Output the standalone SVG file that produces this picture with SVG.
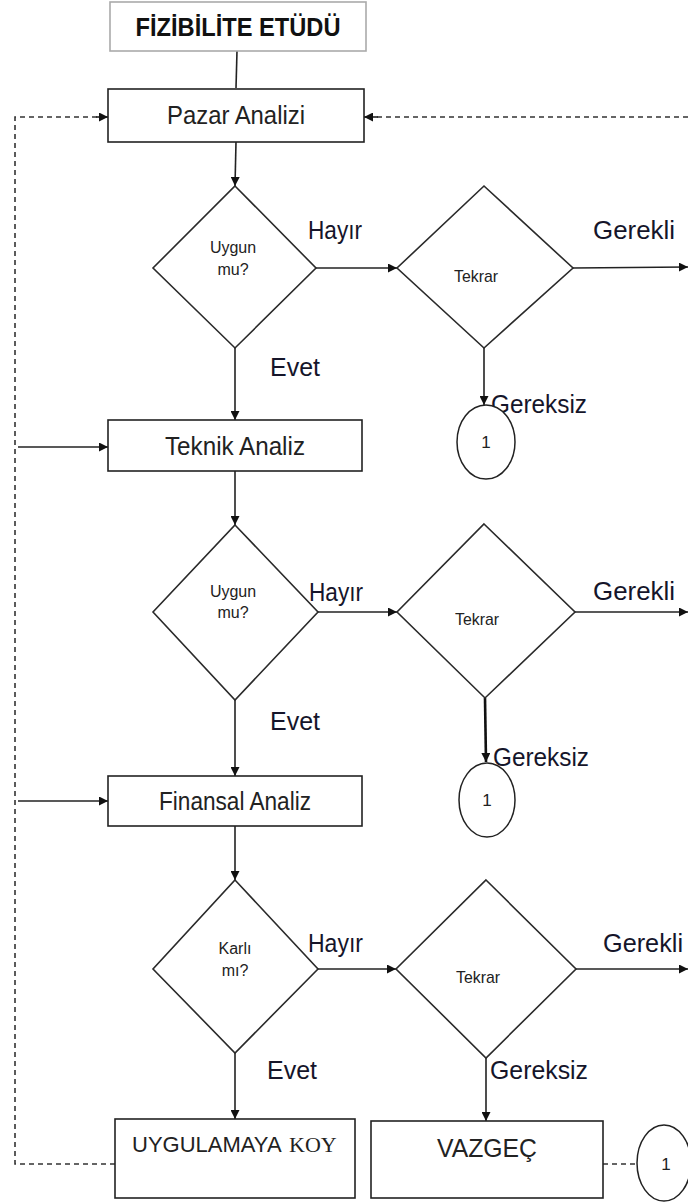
<svg xmlns="http://www.w3.org/2000/svg" width="688" height="1202" viewBox="0 0 688 1202">
  <defs>
    <marker id="arrow" viewBox="0 0 10 10" refX="10" refY="5" markerWidth="9" markerHeight="9" markerUnits="userSpaceOnUse" orient="auto">
      <path d="M0,0 L10,5 L0,10 z" fill="#111"/>
    </marker>
    <style>
      .box { fill: #fff; stroke: #222; stroke-width: 1.6; }
      .dia { fill: #fff; stroke: #2a2a2a; stroke-width: 1.6; }
      .circ { fill: #fff; stroke: #222; stroke-width: 1.5; }
      .ln { fill: none; stroke: #222; stroke-width: 1.6; }
      .thick { fill: none; stroke: #111; stroke-width: 2.6; }
      .dash { fill: none; stroke: #333; stroke-width: 1.6; stroke-dasharray: 5 4; }
      .arr { marker-end: url(#arrow); }
      .lbl { font-family: "Liberation Sans", Arial, sans-serif; font-size: 25px; fill: #222; text-anchor: middle; }
      .small { font-family: "Liberation Sans", Arial, sans-serif; font-size: 16px; fill: #222; text-anchor: middle; }
      .tek { font-family: "Liberation Sans", Arial, sans-serif; font-size: 17px; fill: #222; text-anchor: middle; }
      .edge { font-family: "Liberation Sans", Arial, sans-serif; font-size: 25px; fill: #15152a; }
      .num { font-family: "Liberation Sans", Arial, sans-serif; font-size: 17px; fill: #222; text-anchor: middle; }
    </style>
  </defs>
  <rect width="688" height="1202" fill="#fff"/>

  <!-- connectors -->
  <g id="connectors">
    <!-- title to first step -->
    <line class="ln" x1="237" y1="51" x2="236" y2="88" stroke="#444"/>
    <!-- feedback loops -->
    <polyline class="dash" points="115,1164 15,1164 15,117 99,117"/>
    <line class="ln arr" x1="96" y1="117" x2="108" y2="117"/>
    <line class="dash" x1="688" y1="117" x2="376" y2="117"/>
    <line class="ln arr" x1="378" y1="117" x2="364" y2="117"/>
    <line class="ln arr" x1="18" y1="447" x2="108" y2="447"/>
    <line class="ln arr" x1="18" y1="801" x2="108" y2="801"/>
    <!-- main flow -->
    <line class="ln arr" x1="236" y1="142" x2="235" y2="186"/>
    <line class="ln arr" x1="235" y1="348" x2="235" y2="420"/>
    <line class="ln arr" x1="235" y1="471" x2="235" y2="525"/>
    <line class="ln arr" x1="235" y1="700" x2="235" y2="776"/>
    <line class="ln arr" x1="235" y1="826" x2="235" y2="880"/>
    <line class="ln arr" x1="235" y1="1053" x2="235" y2="1119"/>
    <!-- Hayır branches -->
    <line class="ln arr" x1="316" y1="268" x2="397" y2="268"/>
    <line class="ln arr" x1="318" y1="612" x2="397" y2="612"/>
    <line class="ln arr" x1="318" y1="969" x2="396" y2="969"/>
    <!-- Gerekli branches -->
    <line class="ln arr" x1="573" y1="268" x2="688" y2="267"/>
    <line class="ln arr" x1="575" y1="612" x2="688" y2="612"/>
    <line class="ln arr" x1="576" y1="969" x2="688" y2="969"/>
    <!-- Gereksiz branches -->
    <line class="ln arr" x1="484" y1="348" x2="484" y2="405"/>
    <line class="thick arr" x1="485" y1="698" x2="486" y2="762"/>
    <line class="ln arr" x1="486" y1="1058" x2="486" y2="1121"/>
    <!-- VAZGEÇ to connector -->
    <line class="dash" x1="603" y1="1164" x2="637" y2="1164"/>
  </g>

  <!-- edge labels -->
  <g id="edge-labels">
    <text class="edge" x="308" y="239" textLength="54" lengthAdjust="spacingAndGlyphs">Hayır</text>
    <text class="edge" x="593" y="239" textLength="82" lengthAdjust="spacingAndGlyphs">Gerekli</text>
    <text class="edge" x="270" y="376" textLength="50" lengthAdjust="spacingAndGlyphs">Evet</text>
    <text class="edge" x="491" y="413" textLength="96" lengthAdjust="spacingAndGlyphs">Gereksiz</text>

    <text class="edge" x="309" y="601" textLength="54" lengthAdjust="spacingAndGlyphs">Hayır</text>
    <text class="edge" x="593" y="600" textLength="82" lengthAdjust="spacingAndGlyphs">Gerekli</text>
    <text class="edge" x="270" y="730" textLength="50" lengthAdjust="spacingAndGlyphs">Evet</text>
    <text class="edge" x="493" y="766" textLength="96" lengthAdjust="spacingAndGlyphs">Gereksiz</text>

    <text class="edge" x="308" y="952" textLength="55" lengthAdjust="spacingAndGlyphs">Hayır</text>
    <text class="edge" x="603" y="952" textLength="80" lengthAdjust="spacingAndGlyphs">Gerekli</text>
    <text class="edge" x="267" y="1079" textLength="50" lengthAdjust="spacingAndGlyphs">Evet</text>
    <text class="edge" x="490" y="1079" textLength="98" lengthAdjust="spacingAndGlyphs">Gereksiz</text>
  </g>

  <g id="title">
    <rect x="110" y="2" width="256" height="49" fill="#fff" stroke="#aaa" stroke-width="1.6"/>
    <text x="238" y="36" font-family="'Liberation Sans', Arial, sans-serif" font-size="25" font-weight="bold" fill="#111" text-anchor="middle" textLength="205" lengthAdjust="spacingAndGlyphs">FİZİBİLİTE ETÜDÜ</text>
  </g>

  <g id="pazar-analizi">
    <rect class="box" x="108" y="89" width="256" height="53"/>
    <text class="lbl" x="236" y="124" textLength="138" lengthAdjust="spacingAndGlyphs">Pazar Analizi</text>
  </g>

  <g id="uygun-1">
    <polygon class="dia" points="235,186 316,268 235,348 153,268"/>
    <text class="small" x="233" y="253">Uygun</text>
    <text class="small" x="233" y="275">mu?</text>
  </g>

  <g id="tekrar-1">
    <polygon class="dia" points="484,186 573,268 484,348 397,268"/>
    <text class="tek" x="476" y="282" textLength="44" lengthAdjust="spacingAndGlyphs">Tekrar</text>
  </g>

  <g id="connector-1a">
    <ellipse class="circ" cx="486" cy="442" rx="29" ry="37"/>
    <text class="num" x="486" y="448">1</text>
  </g>

  <g id="teknik-analiz">
    <rect class="box" x="108" y="420" width="254" height="51"/>
    <text class="lbl" x="235" y="455" textLength="140" lengthAdjust="spacingAndGlyphs">Teknik Analiz</text>
  </g>

  <g id="uygun-2">
    <polygon class="dia" points="235,525 318,612 235,700 153,612"/>
    <text class="small" x="233" y="597">Uygun</text>
    <text class="small" x="233" y="618">mu?</text>
  </g>

  <g id="tekrar-2">
    <polygon class="dia" points="484,524 575,612 485,698 397,612"/>
    <text class="tek" x="477" y="625" textLength="44" lengthAdjust="spacingAndGlyphs">Tekrar</text>
  </g>

  <g id="connector-1b">
    <ellipse class="circ" cx="487" cy="800" rx="28" ry="37"/>
    <text class="num" x="487" y="806">1</text>
  </g>

  <g id="finansal-analiz">
    <rect class="box" x="108" y="776" width="254" height="50"/>
    <text class="lbl" x="235" y="810" textLength="152" lengthAdjust="spacingAndGlyphs">Finansal Analiz</text>
  </g>

  <g id="karli-mi">
    <polygon class="dia" points="235,880 318,969 235,1053 153,969"/>
    <text class="small" x="235" y="954">Karlı</text>
    <text class="small" x="235" y="976">mı?</text>
  </g>

  <g id="tekrar-3">
    <polygon class="dia" points="486,880 576,969 486,1058 396,969"/>
    <text class="tek" x="478" y="983" textLength="44" lengthAdjust="spacingAndGlyphs">Tekrar</text>
  </g>

  <g id="uygulamaya-koy">
    <rect class="box" x="115" y="1119" width="240" height="79"/>
    <text x="132" y="1152" font-family="'Liberation Sans', Arial, sans-serif" font-size="22" fill="#222">UYGULAMAYA</text>
    <text x="289" y="1152" font-family="'Liberation Serif', 'Times New Roman', serif" font-size="22" fill="#222">KOY</text>
  </g>

  <g id="vazgec">
    <rect class="box" x="371" y="1121" width="232" height="77"/>
    <text class="lbl" x="487" y="1157" textLength="100" lengthAdjust="spacingAndGlyphs">VAZGEÇ</text>
  </g>

  <g id="connector-1c">
    <ellipse class="circ" cx="664" cy="1163" rx="27" ry="38"/>
    <text class="num" x="666" y="1170">1</text>
  </g>
</svg>
